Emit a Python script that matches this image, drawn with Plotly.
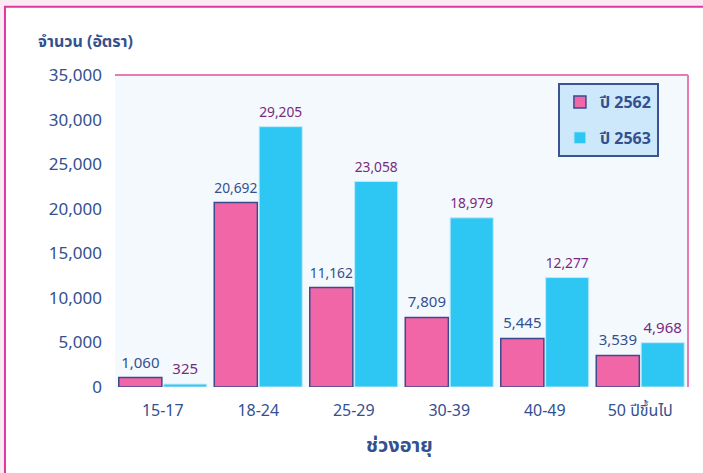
import plotly.graph_objects as go

age_groups = ["15-17", "18-24", "25-29", "30-39", "40-49", "50 ปีขึ้นไป"]
y2562 = [1060, 20692, 11162, 7809, 5445, 3539]
y2563 = [325, 29205, 23058, 18979, 12277, 4968]
y_ticks = [0, 5000, 10000, 15000, 20000, 25000, 30000, 35000]

navy = "#33508f"
purple = "#7a2a7e"
pink = "#f066a7"
cyan = "#2ec6f2"
FONT = "Noto Sans Thai, Noto Sans, sans-serif"

fig = go.Figure()
fig.add_trace(go.Bar(
    x=age_groups, y=y2562, name="ปี 2562", legendgroup="a",
    marker=dict(color=pink, line=dict(color="#3c4a8e", width=1.5)),
    text=[f"{v:,}" for v in y2562], textposition="outside",
    textfont=dict(color=navy, size=15), cliponaxis=False,
))
fig.add_trace(go.Bar(
    x=age_groups, y=y2563, name="ปี 2563", legendgroup="b",
    marker=dict(color=cyan, line=dict(color="#bfeafb", width=1)),
    text=[f"{v:,}" for v in y2563], textposition="outside",
    textfont=dict(color=purple, size=15), cliponaxis=False,
))

# outer frame, plot background, plot-area border (top / right only)
shapes = [
    dict(type="rect", xref="paper", yref="paper", x0=-0.192, x1=1.25, y0=-0.35, y1=1.219,
         fillcolor="white", line=dict(color="#e0389c", width=2), layer="below"),
    dict(type="rect", xref="paper", yref="paper", x0=0, x1=1, y0=0, y1=1,
         fillcolor="#f3f9fd", line=dict(width=0), layer="below"),
    dict(type="line", xref="paper", yref="paper", x0=0, x1=1, y0=1, y1=1,
         line=dict(color="#e87bb3", width=2)),
    dict(type="line", xref="paper", yref="paper", x0=1, x1=1, y0=0, y1=1,
         line=dict(color="#e87bb3", width=2)),
]

fig.update_layout(
    width=703, height=473,
    margin=dict(l=115, r=15, t=75, b=86),
    paper_bgcolor="#fbe9f3",
    plot_bgcolor="rgba(0,0,0,0)",
    font=dict(family=FONT, color=navy),
    barmode="group", bargap=0.06, bargroupgap=0.04,
    showlegend=True,
    legend=dict(x=0.773, y=0.974, xanchor="left", yanchor="top",
                bgcolor="#cde8fa", bordercolor="#3b5391", borderwidth=2,
                font=dict(size=16, color=navy, family=FONT, weight="bold"),
                tracegroupgap=12, itemwidth=30),
    shapes=shapes,
    annotations=[
        dict(text="<b>จำนวน (อัตรา)</b>", xref="paper", yref="paper", x=-0.138, y=1.106,
             xanchor="left", yanchor="middle", showarrow=False,
             font=dict(size=16, color=navy)),
        dict(text="<b>ช่วงอายุ</b>", xref="paper", yref="paper", x=0.496, y=-0.189,
             xanchor="center", yanchor="middle", showarrow=False,
             font=dict(size=20, color=navy)),
    ],
)
fig.update_xaxes(showgrid=False, showline=False, ticks="", ticklabelstandoff=12,
                 tickfont=dict(size=16, color=navy))
fig.update_yaxes(range=[0, 35000], tickvals=y_ticks, tickformat=",", showgrid=False,
                 zeroline=False, showline=False, ticks="", ticklabelstandoff=12,
                 tickfont=dict(size=17, color=navy))

fig.write_html("out.html", config={"displayModeBar": False},
               post_script="document.body.style.margin='0';")
